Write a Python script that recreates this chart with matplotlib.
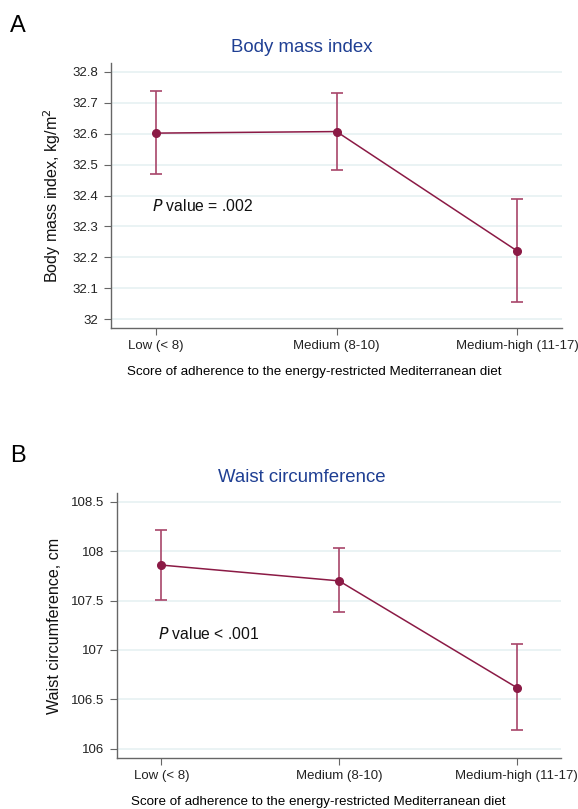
import matplotlib.pyplot as plt

plt.rcParams['font.family'] = ['Liberation Sans', 'DejaVu Sans']

categories = ['Low (< 8)', 'Medium (8-10)', 'Medium-high (11-17)']
x_label = 'Score of adherence to the energy-restricted Mediterranean diet'

bmi_mean = [32.602, 32.607, 32.221]
bmi_low = [32.468, 32.484, 32.055]
bmi_high = [32.739, 32.732, 32.390]
bmi_ticks = [32, 32.1, 32.2, 32.3, 32.4, 32.5, 32.6, 32.7, 32.8]
bmi_tick_labels = ['32', '32.1', '32.2', '32.3', '32.4', '32.5', '32.6', '32.7', '32.8']

waist_mean = [107.86, 107.70, 106.62]
waist_low = [107.51, 107.38, 106.19]
waist_high = [108.22, 108.03, 107.06]
waist_ticks = [106, 106.5, 107, 107.5, 108, 108.5]
waist_tick_labels = ['106', '106.5', '107', '107.5', '108', '108.5']

LINE = '#8b1a45'
ERR = '#a8456a'
TITLE = '#1f3f93'
AXIS = '#666666'


def panel(fig, rect, mean, low, high, ticks, tick_labels, ylim, ylabel,
          title, letter, pval, pval_y, fig_top):
    ax = fig.add_axes(rect)
    xs = [1, 2, 3]
    err = [[m - l for m, l in zip(mean, low)], [h - m for m, h in zip(mean, high)]]
    ax.errorbar(xs, mean, yerr=err, fmt='none', ecolor=ERR, elinewidth=1.2,
                capsize=4, capthick=1.2, zorder=2)
    ax.plot(xs, mean, color=LINE, lw=1.1, marker='o', ms=5.5, zorder=3)

    ax.set_xlim(0.75, 3.25)
    ax.set_ylim(*ylim)
    ax.set_xticks(xs)
    ax.set_xticklabels(categories, fontsize=9.5)
    ax.set_yticks(ticks)
    ax.set_yticklabels(tick_labels, fontsize=9.5)
    ax.grid(axis='y', color='#eaf3f4', lw=1.4)
    ax.set_axisbelow(True)
    for s in ['top', 'right']:
        ax.spines[s].set_visible(False)
    for s in ['left', 'bottom']:
        ax.spines[s].set_color(AXIS)
        ax.spines[s].set_linewidth(1.0)
    ax.tick_params(colors=AXIS, labelcolor='#222222', length=5, width=0.8, pad=4)
    ax.set_ylabel(ylabel, fontsize=11.6, color='#111111', labelpad=7)

    ax.text(1.0 - 0.02, pval_y, pval, fontsize=11.3, color='#111111', va='center')

    fig.text(302 / 578, 1 - fig_top / 809, title, fontsize=13.4, color=TITLE,
             ha='center', va='center')
    fig.text(10 / 578, 1 - (fig_top - 22) / 809, letter, fontsize=17, va='center')
    return ax


def main():
    fig = plt.figure(figsize=(5.78, 8.09), dpi=100)
    W, H = 578, 809

    panel(fig, [111 / W, 1 - 328 / H, 451 / W, 265 / H],
          bmi_mean, bmi_low, bmi_high, bmi_ticks, bmi_tick_labels,
          (31.971, 32.829), 'Body mass index, kg/m$^2$',
          'Body mass index', 'A', '$P$ value = .002', 32.366, 48)
    fig.text(314 / W, 1 - 372 / H, x_label, fontsize=9.6, ha='center', va='center')

    panel(fig, [117 / W, 1 - 758 / H, 444 / W, 265 / H],
          waist_mean, waist_low, waist_high, waist_ticks, waist_tick_labels,
          (105.906, 108.59), 'Waist circumference, cm',
          'Waist circumference', 'B', '$P$ value < .001', 107.16, 478)
    fig.text(318 / W, 1 - 802 / H, x_label, fontsize=9.6, ha='center', va='center')

    fig.savefig('out.png', dpi=100)


if __name__ == "__main__":
    main()
